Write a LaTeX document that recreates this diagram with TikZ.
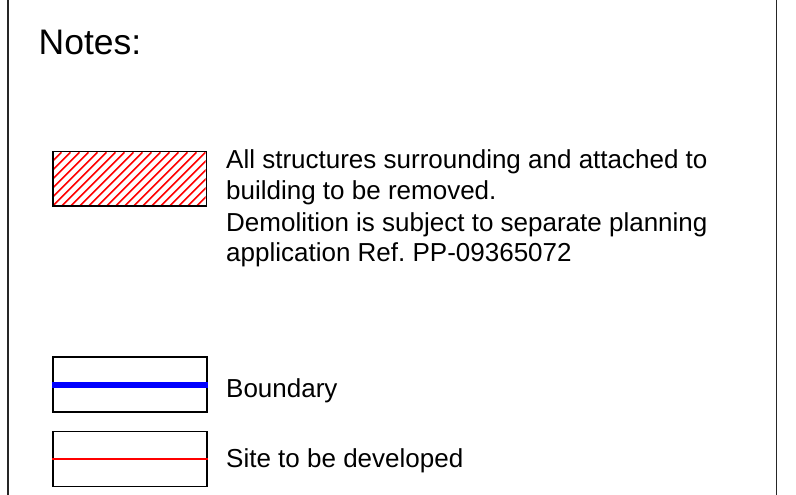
\documentclass[tikz,border=0pt]{standalone}
\usepackage{fontspec}
\setmainfont{Liberation Sans}
\frenchspacing
\begin{document}
\begin{tikzpicture}[x=1pt,y=1pt,
  legendbox/.style={draw=black,line width=1.5pt},
  bodytext/.style={anchor=base west,inner sep=0pt,font=\fontsize{26}{31}\selectfont},
  hatchline/.style={draw=red,line width=1.5pt},
  frameline/.style={draw=black!85,line width=1.6pt}]
\useasboundingbox (0,0) rectangle (796,495);
% frame sides
\coordinate (fl1) at (8,0); \coordinate (fl2) at (8,495);
\coordinate (fr1) at (776.5,0); \coordinate (fr2) at (776.5,495);
\draw[frameline] (fl1) -- (fl2);
\draw[frameline] (fr1) -- (fr2);
% title
\node[anchor=base west,inner sep=0pt,font=\fontsize{35.5}{40}\selectfont] (notes) at (38.5,440) {Notes:};
% hatched box
\begin{scope}
\clip (52,288.3) rectangle (205.7,342.7);
\foreach \k in {-8,...,19} {
  \draw[hatchline] ({52+\k*9},288.3) -- ({52+\k*9+54.4},342.7);
}
\end{scope}
\node[legendbox,minimum width=153.7pt,minimum height=54.4pt,inner sep=0pt,anchor=south west] (hatchbox) at (52,288.3) {};
\node[bodytext] (t1) at (226,326) {All structures surrounding and attached to};
\node[bodytext] (t2) at (226,295) {building to be removed.};
\node[bodytext] (t3) at (226,263.5) {Demolition is subject to separate planning};
\node[bodytext] (t4) at (226,233) {application Ref. PP-09365072};
% boundary
\node[legendbox,minimum width=154pt,minimum height=54.7pt,inner sep=0pt,anchor=south west] (bbox) at (52,82.3) {};
\draw[blue,line width=6pt] (bbox.west) -- (bbox.east);
\node[bodytext] (t5) at (226,97.3) {Boundary};
% site
\node[legendbox,minimum width=154pt,minimum height=55pt,inner sep=0pt,anchor=south west] (sbox) at (52,7.7) {};
\draw[red,line width=2pt] (sbox.west) -- (sbox.east);
\node[bodytext] (t6) at (226,27.7) {Site to be developed};
\end{tikzpicture}
\end{document}
